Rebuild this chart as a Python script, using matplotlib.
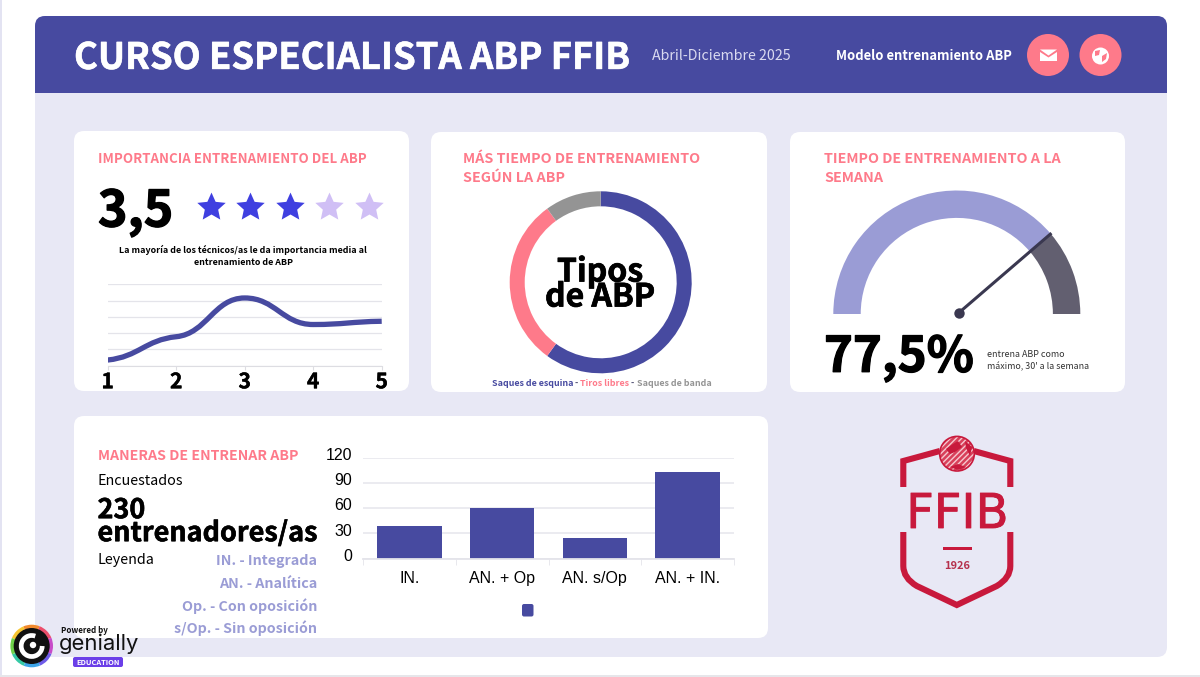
import numpy as np
import matplotlib
matplotlib.use("Agg")
import matplotlib.pyplot as plt
from matplotlib.patches import FancyBboxPatch, Rectangle, Circle, Wedge, Arc, PathPatch, Polygon
from matplotlib.path import Path
from matplotlib.transforms import ScaledTranslation
import matplotlib.patheffects as pe

plt.rcParams['font.family'] = ['Noto Sans CJK SC', 'DejaVu Sans']

# Data
rating_x = [1, 2, 3, 4, 5]
rating_y = [3.5, 17.8, 41.6, 25.3, 27.3]
star_on = [True, True, True, False, False]

abp_types = ["Saques de esquina", "Tiros libres", "Saques de banda"]
abp_values = [60, 30, 10]

gauge_value = 77.5

bar_labels = ["IN.", "AN. + Op", "AN. s/Op", "AN. + IN."]
bar_values = [39, 60, 25, 103]

legend_lines = ["IN. - Integrada", "AN. - Analítica", "Op. - Con oposición", "s/Op. - Sin oposición"]

# Colours
BLUE = "#474AA0"
PINK = "#FE7A8A"
GREY = "#949494"
LILAC = "#E8E8F5"
SOFT = "#9A9CD5"
DARK = "#625F70"
RED = "#C8193C"

W, H = 1200, 677
fig = plt.figure(figsize=(12, 6.77), dpi=100, facecolor="white")


def px(v):
    return v * 0.72


def axes_px(x0, y0, x1, y1):
    a = fig.add_axes([x0 / W, 1 - y1 / H, (x1 - x0) / W, (y1 - y0) / H])
    a.patch.set_alpha(0)
    return a


def box(x0, y0, x1, y1, color, r=10, **kw):
    bg.add_patch(FancyBboxPatch((x0, y0), x1 - x0, y1 - y0,
                                boxstyle=f"round,pad=0,rounding_size={r}",
                                fc=color, ec="none", **kw))


def label(x, y, s, size, color="black", weight="bold", ha="left", heavy=0, **kw):
    t = bg.text(x, y + size * 0.08, s, fontsize=px(size), color=color, fontweight=weight,
                ha=ha, va="center", **kw)
    if heavy:
        # the reference type is a bit heavier than the bold cut
        t.set_path_effects([pe.withStroke(linewidth=heavy, foreground=color)])
    return t


# Backdrop in pixel coordinates
bg = fig.add_axes([0, 0, 1, 1])
bg.set_xlim(0, W)
bg.set_ylim(H, 0)
bg.axis("off")

bg.add_patch(Rectangle((0, 0), 1.5, H, fc="#E3E3F2", ec="none"))
bg.add_patch(Rectangle((0, H - 2), W, 2, fc="#E6E6EA", ec="none"))
box(35, 16, 1167, 657, LILAC)
box(35, 16, 1167, 70, BLUE)
bg.add_patch(Rectangle((35, 32), 1132, 61, fc=BLUE, ec="none"))

# Header
label(74, 55.5, "CURSO ESPECIALISTA ABP FFIB", 36.4, "white", heavy=0.4)
label(652, 55, "Abril-Diciembre 2025", 14.2, "#DADAF0", weight="normal")
label(836, 54.5, "Modelo entrenamiento ABP", 13, "white")

bg.add_patch(Circle((1048, 55), 21, fc=PINK, ec="none"))
bg.add_patch(Circle((1100.5, 55), 21, fc=PINK, ec="none"))
bg.add_patch(Polygon([(1040, 49.5), (1057, 49.5), (1048.5, 55.5)], fc="white", ec="none"))
bg.add_patch(Polygon([(1040, 52), (1048.5, 57.5), (1057, 52), (1057, 61), (1040, 61)], fc="white", ec="none"))
bg.add_patch(Circle((1100.5, 56), 8.5, fc="white", ec="none"))
bg.add_patch(Polygon([(1095, 51), (1100, 50), (1099, 55), (1095, 56)], fc=PINK, ec="none"))
bg.add_patch(Polygon([(1102, 56), (1107, 53), (1106, 59), (1102, 62)], fc=PINK, ec="none"))

# Cards
box(74, 131, 409, 391, "white")
box(431, 132, 767, 392, "white")
box(790, 132, 1125, 392, "white")
box(74, 416, 768, 638, "white")

# Card 1: importance
label(98, 158, "IMPORTANCIA ENTRENAMIENTO DEL ABP", 13.3, PINK)
label(98, 208, "3,5", 50, heavy=0.9)
ang = np.pi / 2 + np.arange(10) * np.pi / 5
rad = np.where(np.arange(10) % 2 == 0, 1.0, 0.47)
star = Path(np.column_stack([rad * np.cos(ang), rad * np.sin(ang)]), closed=False)
for i, on in enumerate(star_on):
    bg.plot(210.5 + i * 39.5, 206.5, marker=star, ms=21.5, mec="none",
            color="#3F3FE0" if on else "#D0BFF5")
label(243, 249, "La mayoría de los técnicos/as le da importancia media al", 8.9, ha="center")
label(243, 261.5, "entrenamiento de ABP", 8.9, ha="center")

ax1 = axes_px(107.7, 284.3, 381.7, 365.7)
ax1.set_xlim(1, 5)
ax1.set_ylim(0, 50)
ax1.set_yticks([0, 10, 20, 30, 40, 50])
ax1.set_xticks(rating_x)
ax1.set_xticklabels(rating_x, fontsize=px(21), fontweight="bold",
                    path_effects=[pe.withStroke(linewidth=0.3, foreground="black")])
ax1.tick_params(axis="x", length=3, color="#DDDDE2", pad=1)
ax1.tick_params(axis="y", length=0, labelleft=False)
ax1.grid(axis="y", color="#E4E4EA", lw=0.9)
ax1.set_axisbelow(True)
for s in ["top", "left", "right"]:
    ax1.spines[s].set_visible(False)
ax1.spines["bottom"].set_color("#DDDDE2")

# smooth curve through the values, flat at the peaks
slopes = np.diff(rating_y)
tang = [slopes[0] * 0.3, slopes[0] * 0.3, 0.0, 0.0, slopes[-1] * 0.3]
verts = [(rating_x[0], rating_y[0])]
codes = [Path.MOVETO]
for i in range(len(rating_x) - 1):
    verts += [(rating_x[i] + 0.45, rating_y[i] + tang[i] * 0.45),
              (rating_x[i + 1] - 0.45, rating_y[i + 1] - tang[i + 1] * 0.45),
              (rating_x[i + 1], rating_y[i + 1])]
    codes += [Path.CURVE4] * 3
ax1.add_patch(PathPatch(Path(verts, codes), fc="none", ec=BLUE, lw=3.8, capstyle="butt"))

# Card 2: donut
label(463, 158, "MÁS TIEMPO DE ENTRENAMIENTO", 14.35, PINK)
label(463, 176.5, "SEGÚN LA ABP", 14.35, PINK)
ax2 = axes_px(600.7 - 91, 282.3 - 91, 600.7 + 91, 282.3 + 91)
ax2.pie(abp_values, colors=[BLUE, PINK, GREY], startangle=90, counterclock=False,
        radius=1, wedgeprops={"width": 0.165})
ax2.set_xlim(-1, 1)
ax2.set_ylim(-1, 1)
label(600, 270, "Tipos", 32, ha="center", heavy=0.5)
label(600, 295, "de ABP", 32, ha="center", heavy=0.5)
label(491.5, 383, abp_types[0], 8.9, BLUE)
label(575, 383, "-", 8.9, "#555577")
label(580.5, 383, abp_types[1], 8.9, PINK)
label(631, 383, "-", 8.9, "#555577")
label(637, 383, abp_types[2], 8.9, GREY)

# Card 3: gauge
label(824, 158, "TIEMPO DE ENTRENAMIENTO A LA", 14.35, PINK)
label(824, 176.5, "SEMANA", 14.35, PINK)
ax3 = axes_px(956.8 - 123.5, 314 - 123.5, 956.8 + 123.5, 314 + 123.5)
ax3.pie([gauge_value, 100 - gauge_value, 100], colors=[SOFT, DARK, "none"],
        startangle=180, counterclock=False, radius=1, wedgeprops={"width": 0.222})
ax3.set_xlim(-1, 1)
ax3.set_ylim(-1, 1)
theta = np.pi * (1 - gauge_value / 100)
ax3.plot([0.018, 1.008 * np.cos(theta)], [0.011, 1.008 * np.sin(theta)], color="#3A3850",
         lw=2.2, clip_on=False, solid_capstyle="butt")
ax3.plot(0.018, 0.011, "o", color="#3A3850", ms=7.5, mec="none", clip_on=False)
label(824, 354, "77,5%", 49, heavy=0.9)
label(987, 354, "entrena ABP como", 8.9, "#333333", weight="normal")
label(987, 366, "máximo, 30' a la semana", 8.9, "#333333", weight="normal")

# Card 4: bars
label(97.5, 455, "MANERAS DE ENTRENAR ABP", 14.2, PINK)
label(97.5, 480, "Encuestados", 14.3, weight="normal")
label(97.5, 508, "230", 27, heavy=0.4)
label(97.5, 531, "entrenadores/as", 27, heavy=0.4)
label(97.5, 559, "Leyenda", 14.3, weight="normal")
for y, s in zip([560, 582.5, 605, 627], legend_lines):
    label(317, y, s, 14.3, SOFT, ha="right")

ax4 = axes_px(363, 457.7, 734, 558.7)
ax4.bar(bar_labels, bar_values, width=0.695, color=BLUE)
ax4.set_xlim(-0.5, 3.5)
ax4.set_ylim(0, 120)
ax4.set_yticks([0, 30, 60, 90, 120])
ax4.tick_params(axis="y", length=0, labelsize=px(16), pad=8)
ax4.tick_params(axis="x", length=0, labelsize=px(16), pad=9)
for t in ax4.get_xticklabels() + ax4.get_yticklabels():
    t.set_fontfamily("Liberation Sans")
up = ScaledTranslation(0, 3.7 / 100, fig.dpi_scale_trans)
for t in ax4.get_yticklabels():
    t.set_transform(t.get_transform() + up)
ax4.set_xticks(np.arange(-0.5, 4, 1), minor=True)
ax4.tick_params(axis="x", which="minor", length=4, color="#E4E4EA")
ax4.grid(axis="y", color="#E6E6EC", lw=1.1)
ax4.set_axisbelow(True)
for s in ["top", "left", "right"]:
    ax4.spines[s].set_visible(False)
ax4.spines["bottom"].set_color("#E4E4EA")
ax4.spines["bottom"].set_linewidth(1.3)
box(522, 604, 533.5, 616.5, BLUE, r=2)

# FFIB crest
cx = 956.8
for sx in [-1, 1]:
    xs = cx + sx * 53.5
    bg.add_patch(PathPatch(Path([(xs, 487), (xs, 461), (cx + sx * 35, 456), (cx + sx * 17, 451)],
                                [Path.MOVETO, Path.LINETO, Path.CURVE3, Path.CURVE3]),
                           fc="none", ec=RED, lw=4.4, capstyle="butt", joinstyle="miter"))
bg.add_patch(PathPatch(Path([(cx - 53.5, 532), (cx - 53.5, 566), (cx - 53.5, 578), (cx - 40, 586),
                             (cx, 605), (cx + 40, 586), (cx + 53.5, 578), (cx + 53.5, 566), (cx + 53.5, 532)],
                            [Path.MOVETO, Path.LINETO, Path.CURVE3, Path.CURVE3, Path.LINETO,
                             Path.LINETO, Path.CURVE3, Path.CURVE3, Path.LINETO]),
                       fc="none", ec=RED, lw=4.4, capstyle="butt", joinstyle="miter"))
bg.add_patch(Circle((957, 453.7), 17.3, fc="#D8405A", ec="#F6C8D0", lw=0, hatch="//////", zorder=3))
bg.add_patch(Circle((957, 453.7), 17.3, fc="none", ec=RED, lw=1.2, zorder=4))
bg.add_patch(Polygon([(946, 449), (953, 444), (958, 441), (962, 447), (955, 452), (950, 454)],
                     fc=RED, ec="none", zorder=4))
bg.add_patch(Polygon([(965, 441), (972, 447), (970, 456), (966, 448)], fc=RED, ec="none", zorder=4))
bg.add_patch(Polygon([(950, 467), (958, 464), (966, 467), (958, 470)], fc=RED, ec="none", zorder=4))
bg.text(957.5, 509.5, "FFIB", fontsize=px(48), family="DejaVu Sans", color=RED, ha="center",
        va="center_baseline", path_effects=[pe.withStroke(linewidth=0.6, foreground=RED)])
bg.add_patch(Rectangle((943, 546.5), 29, 3, fc=RED, ec="none"))
label(957.5, 565, "1926", 11, "#B5304C", ha="center")

# Genially badge
ring_colors = ["#F7C531", "#F28A2E", "#EC4E6B", "#C84BC9", "#6E5BE8", "#3DA5E8", "#35C9A5", "#6FD24A"]
for i, c in enumerate(ring_colors):
    bg.add_patch(Wedge((31.7, 646), 21.3, 202 + i * 45, 202 + (i + 1) * 45, fc=c, ec="none"))
bg.add_patch(Circle((31.7, 646), 18, fc="#111111", ec="none"))
bg.add_patch(Arc((31.7, 646), 21, 21, theta1=0, theta2=290, ec="white", lw=3.4))
bg.add_patch(Circle((33, 645), 3.2, fc="white", ec="none"))
label(61, 630, "Powered by", 8, "#111111", style="italic")
bg.text(58.5, 644, "genially", fontsize=px(22), family="Inter", color="#111111", ha="left", va="center")
box(73, 657, 123, 667, "#6B3FE8", r=2)
label(98, 661.5, "EDUCATION", 7.5, "white", ha="center")

fig.savefig("out.png", dpi=100)
